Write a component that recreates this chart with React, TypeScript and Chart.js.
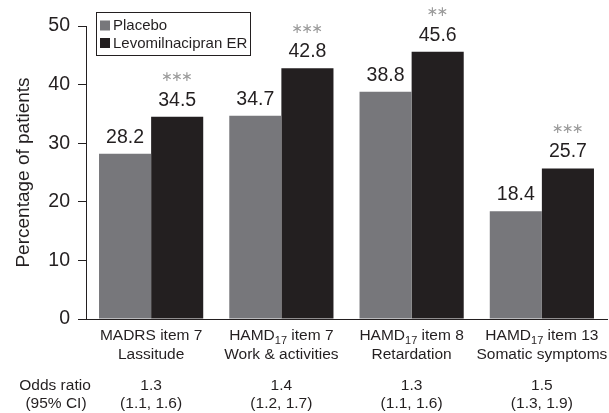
import { useEffect, useRef } from 'react';
import { Chart, registerables } from 'chart.js';

Chart.register(...registerables);

const categoryMain = ['MADRS', 'HAMD', 'HAMD', 'HAMD'];
const categorySub = ['', '17', '17', '17'];
const categoryItem = [' item 7', ' item 7', ' item 8', ' item 13'];
const categoryDesc = ['Lassitude', 'Work & activities', 'Retardation', 'Somatic symptoms'];

const seriesNames = ['Placebo', 'Levomilnacipran ER'];
const placebo = [28.2, 34.7, 38.8, 18.4];
const levomilnacipran = [34.5, 42.8, 45.6, 25.7];
const significance = ['***', '***', '**', '***'];

const oddsRatio = ['1.3', '1.4', '1.3', '1.5'];
const oddsCI = ['(1.1, 1.6)', '(1.2, 1.7)', '(1.1, 1.6)', '(1.3, 1.9)'];

const yTickMin = 0;
const yTickMax = 50;
const yTickStep = 10;

const FONT = "'Liberation Sans', Arial, Helvetica, sans-serif";
const INK = '#231f20';
const GREY = '#77777b';

const annotationPlugin = {
  id: 'annotations',
  afterDraw(chart: any) {
    const ctx = chart.ctx;
    const xScale = chart.scales.x;
    ctx.save();
    ctx.fillStyle = INK;

    // value labels
    ctx.textAlign = 'center';
    ctx.textBaseline = 'alphabetic';
    chart.data.datasets.forEach((ds: any, di: number) => {
      const meta = chart.getDatasetMeta(di);
      meta.data.forEach((el: any, i: number) => {
        ctx.fillStyle = INK;
        ctx.font = `19.5px ${FONT}`;
        ctx.fillText(Number(ds.data[i]).toFixed(1), el.x, el.y - 11);
        if (di === 1) {
          const stars = significance[i];
          ctx.fillStyle = '#9a9a9a';
          ctx.font = `14px 'DejaVu Sans', sans-serif`;
          ctx.textBaseline = 'middle';
          const n = stars.length;
          for (let k = 0; k < n; k++) {
            ctx.fillText('\u2217', el.x + (k - (n - 1) / 2) * 10, el.y - 39);
          }
          ctx.textBaseline = 'alphabetic';
        }
      });
    });

    // category labels
    ctx.fillStyle = INK;
    for (let i = 0; i < categoryMain.length; i++) {
      const cx = xScale.getPixelForValue(i);
      const mainFont = `15.5px ${FONT}`;
      const subFont = `11px ${FONT}`;
      ctx.font = mainFont;
      const wMain = ctx.measureText(categoryMain[i]).width;
      const wItem = ctx.measureText(categoryItem[i]).width;
      ctx.font = subFont;
      const wSub = categorySub[i] ? ctx.measureText(categorySub[i]).width : 0;
      const total = wMain + wSub + wItem;
      let x = cx - total / 2;
      ctx.textAlign = 'left';
      ctx.font = mainFont;
      ctx.fillText(categoryMain[i], x, 340);
      x += wMain;
      if (categorySub[i]) {
        ctx.font = subFont;
        ctx.fillText(categorySub[i], x, 344);
        x += wSub;
      }
      ctx.font = mainFont;
      ctx.fillText(categoryItem[i], x, 340);
      ctx.textAlign = 'center';
      ctx.fillText(categoryDesc[i], cx, 359);
      ctx.fillText(oddsRatio[i], cx, 390);
      ctx.fillText(oddsCI[i], cx, 408);
    }
    ctx.textAlign = 'center';
    ctx.font = `15.5px ${FONT}`;
    ctx.fillText('Odds ratio', 55, 390);
    ctx.fillText('(95% CI)', 56, 408);

    // legend
    ctx.strokeStyle = INK;
    ctx.lineWidth = 1;
    ctx.strokeRect(96.5, 12.5, 154, 43);
    const colors = [GREY, INK];
    const rows = [25.5, 43];
    ctx.textAlign = 'left';
    ctx.textBaseline = 'middle';
    ctx.font = `15px ${FONT}`;
    seriesNames.forEach((name, k) => {
      ctx.fillStyle = colors[k];
      ctx.fillRect(100, rows[k] - 5, 10, 10);
      ctx.fillStyle = INK;
      ctx.fillText(name, 113, rows[k] + 0.5);
    });
    ctx.restore();
  },
};

export default function App() {
  const ref = useRef<HTMLCanvasElement | null>(null);
  useEffect(() => {
    if (!ref.current) return;
    Chart.defaults.font.family = FONT;
    const chart = new Chart(ref.current, {
      type: 'bar',
      data: {
        labels: categoryMain.map((m, i) => `${m}${categorySub[i]}${categoryItem[i]} ${categoryDesc[i]}`),
        datasets: [
          {
            label: seriesNames[0],
            data: placebo,
            backgroundColor: GREY,
            barPercentage: 1,
            categoryPercentage: 0.8,
          },
          {
            label: seriesNames[1],
            data: levomilnacipran,
            backgroundColor: INK,
            barPercentage: 1,
            categoryPercentage: 0.8,
          },
        ],
      },
      options: {
        responsive: false,
        animation: false,
        layout: { padding: { top: 26, right: 2, left: 0, bottom: 0 } },
        plugins: {
          legend: { display: false },
          tooltip: { enabled: false },
        },
        scales: {
          x: {
            grid: { display: false },
            ticks: { display: false },
            border: { display: true, color: INK, width: 1 },
            afterFit: (scale: any) => {
              scale.height = 94;
            },
          },
          y: {
            min: yTickMin,
            max: yTickMax,
            ticks: {
              stepSize: yTickStep,
              color: INK,
              font: { size: 19.5, family: FONT },
              padding: 8,
            },
            grid: {
              display: true,
              drawOnChartArea: false,
              drawTicks: true,
              tickLength: 8,
              color: INK,
              lineWidth: 1,
            },
            border: { display: true, color: INK, width: 1 },
            title: {
              display: true,
              text: 'Percentage of patients',
              color: INK,
              font: { size: 19, family: FONT },
              padding: { top: 12, bottom: 0 },
            },
            afterFit: (scale: any) => {
              scale.width = 86;
            },
          },
        },
      },
      plugins: [annotationPlugin],
    });
    return () => chart.destroy();
  }, []);
  return (
    <div style={{ position: 'fixed', left: 0, top: 0, width: 609, height: 413, background: '#fff' }}>
      <canvas ref={ref} width={609} height={413} style={{ display: 'block' }} />
    </div>
  );
}
